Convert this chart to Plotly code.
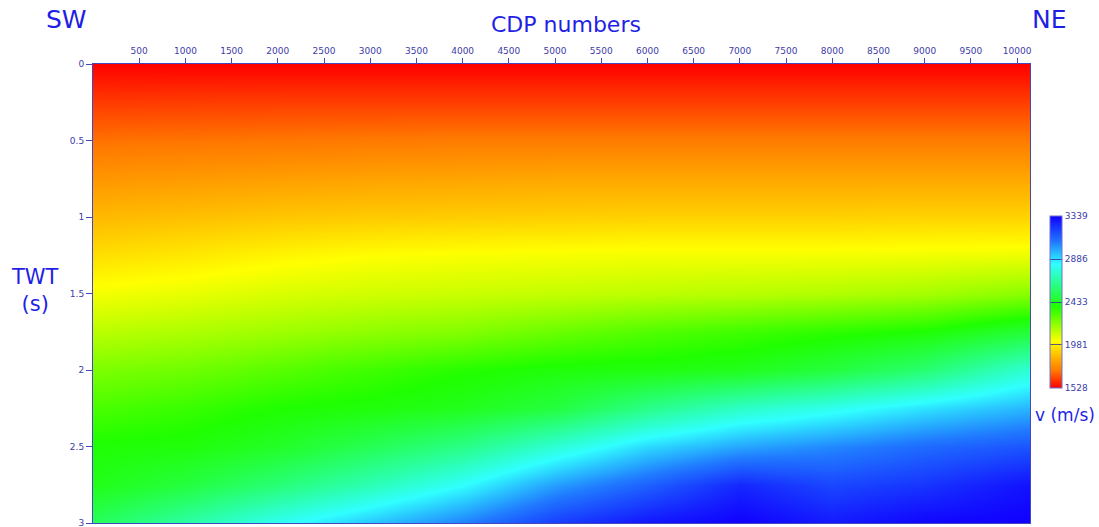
import numpy as np
import plotly.graph_objects as go

# CDP positions of the velocity picks
cdp = [0, 1000, 2000, 3000, 4000, 5000, 6000, 7000, 8000, 9000, 10140]
# two-way time (s)
twt = [0, 0.25, 0.5, 0.75, 1.0, 1.25, 1.5, 1.75, 2.0, 2.25, 2.5, 2.75, 3.0]

# velocities (m/s) read per CDP, top to bottom
v_cdp0     = [1528, 1615, 1700, 1780, 1860, 1945, 2035, 2130, 2230, 2310, 2390, 2420, 2540]
v_cdp1000  = [1528, 1618, 1705, 1790, 1875, 1965, 2055, 2150, 2250, 2340, 2400, 2490, 2670]
v_cdp2000  = [1528, 1620, 1710, 1800, 1890, 1995, 2080, 2175, 2290, 2380, 2450, 2590, 2810]
v_cdp3000  = [1528, 1620, 1715, 1810, 1900, 2015, 2095, 2200, 2330, 2400, 2530, 2700, 2930]
v_cdp4000  = [1528, 1620, 1720, 1815, 1905, 2025, 2105, 2220, 2370, 2430, 2620, 2830, 3050]
v_cdp5000  = [1528, 1620, 1720, 1820, 1910, 2030, 2115, 2260, 2400, 2490, 2760, 3000, 3200]
v_cdp6000  = [1528, 1620, 1720, 1820, 1915, 2035, 2125, 2300, 2410, 2620, 2900, 3120, 3290]
v_cdp7000  = [1528, 1620, 1720, 1820, 1915, 2035, 2135, 2330, 2430, 2730, 2990, 3250, 3339]
v_cdp8000  = [1528, 1620, 1720, 1820, 1915, 2035, 2145, 2360, 2490, 2800, 3040, 3180, 3280]
v_cdp9000  = [1528, 1620, 1720, 1820, 1920, 2040, 2165, 2390, 2580, 2880, 3100, 3220, 3330]
v_cdp10140 = [1528, 1620, 1720, 1820, 1920, 2045, 2210, 2480, 2760, 2960, 3150, 3300, 3339]

x_ticks = list(range(500, 10001, 500))
x_ticktext = [str(v) for v in x_ticks]
y_ticks = [0, 0.5, 1, 1.5, 2, 2.5, 3]
y_ticktext = ["0", "0.5", "1", "1.5", "2", "2.5", "3"]
cbar_ticks = [1528, 1981, 2433, 2886, 3339]
cbar_ticktext = [str(v) for v in cbar_ticks]

columns = [v_cdp0, v_cdp1000, v_cdp2000, v_cdp3000, v_cdp4000, v_cdp5000,
           v_cdp6000, v_cdp7000, v_cdp8000, v_cdp9000, v_cdp10140]
z = np.array(columns).T

colorscale = [
    [0.0, "rgb(255,0,0)"],
    [0.10, "rgb(255,120,0)"],
    [0.19, "rgb(255,190,0)"],
    [0.27, "rgb(255,255,0)"],
    [0.47, "rgb(32,255,0)"],
    [0.72, "rgb(48,255,255)"],
    [0.85, "rgb(32,120,255)"],
    [1.0, "rgb(16,0,255)"],
]

axis_blue = "#4646c0"
label_blue = "#3c3ca8"
title_blue = "#1f1fe6"
tick_font = dict(family="DejaVu Sans", size=9, color=label_blue)

fig = go.Figure(go.Heatmap(
    x=cdp, y=twt, z=z,
    zmin=1528, zmax=3339,
    zsmooth="best",
    colorscale=colorscale,
    colorbar=dict(
        x=1.0213, xanchor="left",
        y=0.4815, yanchor="middle",
        thicknessmode="pixels", thickness=12,
        lenmode="pixels", len=172,
        tickvals=cbar_ticks, ticktext=cbar_ticktext,
        ticks="inside", ticklen=12, tickwidth=1,
        tickcolor="rgba(40,40,150,0.75)",
        tickfont=tick_font,
        outlinewidth=1, outlinecolor="#7070d0",
        xpad=0, ypad=0,
    ),
))

fig.update_layout(
    width=1099, height=527,
    margin=dict(l=93, r=69, t=64, b=4, autoexpand=False),
    paper_bgcolor="white", plot_bgcolor="white",
    xaxis=dict(
        side="top", range=[0, 10140], tickvals=x_ticks, ticktext=x_ticktext,
        ticks="outside", ticklen=5, tickcolor=axis_blue,
        showline=True, linecolor=axis_blue, linewidth=1, mirror=True,
        showgrid=False, zeroline=False, tickfont=tick_font,
        ticklabeloverflow="allow",
    ),
    yaxis=dict(
        range=[3, 0], tickvals=y_ticks, ticktext=y_ticktext,
        ticks="outside", ticklen=6, tickcolor=axis_blue,
        showline=True, linecolor=axis_blue, linewidth=1, mirror=True,
        showgrid=False, zeroline=False, tickfont=tick_font,
        ticklabeloverflow="allow",
    ),
    annotations=[
        dict(text="CDP numbers", x=0.5048, y=1.087, xref="paper", yref="paper",
             xanchor="center", yanchor="middle", showarrow=False,
             font=dict(family="DejaVu Sans", size=22, color=title_blue)),
        dict(text="SW", x=-0.0288, y=1.0959, xref="paper", yref="paper",
             xanchor="center", yanchor="middle", showarrow=False,
             font=dict(family="DejaVu Sans", size=25, color=title_blue)),
        dict(text="NE", x=1.0213, y=1.0959, xref="paper", yref="paper",
             xanchor="center", yanchor="middle", showarrow=False,
             font=dict(family="DejaVu Sans", size=25, color=title_blue)),
        dict(text="TWT<br>(s)", x=-0.0619, y=0.5076, xref="paper", yref="paper",
             xanchor="center", yanchor="middle", showarrow=False, align="center",
             font=dict(family="DejaVu Sans", size=21, color=title_blue)),
        dict(text="v (m/s)", x=1.0373, y=0.2353, xref="paper", yref="paper",
             xanchor="center", yanchor="middle", showarrow=False,
             font=dict(family="DejaVu Sans", size=17, color=title_blue)),
    ],
)

fig.write_html("out.html", config={"displayModeBar": False},
               post_script="document.body.style.margin='0';")
